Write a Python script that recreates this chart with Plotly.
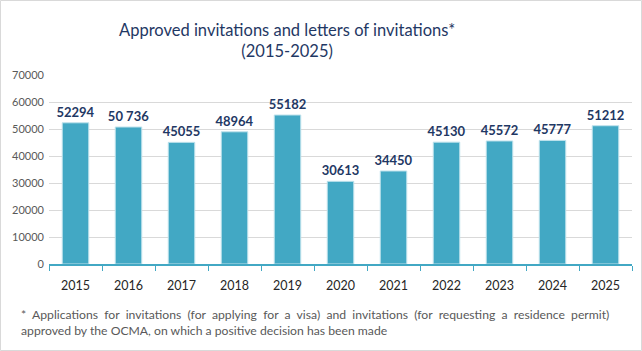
import plotly.graph_objects as go

years = ["2015", "2016", "2017", "2018", "2019", "2020", "2021", "2022", "2023", "2024", "2025"]
values = [52294, 50736, 45055, 48964, 55182, 30613, 34450, 45130, 45572, 45777, 51212]
labels = ["52294", "50 736", "45055", "48964", "55182", "30613", "34450", "45130", "45572", "45777", "51212"]
y_ticks = [0, 10000, 20000, 30000, 40000, 50000, 60000, 70000]

title_text = "Approved invitations and letters of invitations*<br>(2015-2025)"
note_line1 = "* Applications for invitations (for applying for a visa) and invitations (for requesting a residence permit)"
note_line2 = "approved by the OCMA, on which a positive decision has been made"

W, H = 642, 351
L, R, T, B = 49, 10, 75, 87
PW = W - L - R
PH = H - T - B

def px_x(p):
    return (p - L) / PW

def px_y(p):
    return (H - B - p) / PH

FONT = "Lato, Carlito, Calibri, sans-serif"
BAR = "#42A8C4"
NAVY = "#1F3864"

fig = go.Figure(go.Bar(
    x=years, y=values, text=labels, textposition="outside",
    constraintext="none",
    textfont=dict(family=FONT, size=13, color=NAVY, weight="bold"),
    marker=dict(color=BAR, line=dict(color="#BFE2EC", width=1)),
    width=0.5, cliponaxis=False,
))

fig.update_layout(
    width=W, height=H,
    margin=dict(l=L, r=R, t=T, b=B),
    paper_bgcolor="white", plot_bgcolor="white",
    showlegend=False,
    font=dict(family=FONT),
)
fig.update_yaxes(
    range=[0, 70000], tickvals=y_ticks, ticktext=[str(v) for v in y_ticks],
    showgrid=True, gridcolor="#D9D9D9", gridwidth=1, zeroline=False,
    showline=False, ticks="", ticklabelstandoff=4,
    tickfont=dict(family=FONT, size=11, color="#595959"),
)
fig.update_xaxes(
    type="category", showline=True, linecolor=BAR, linewidth=1.5,
    ticks="outside", tickson="boundaries", tickcolor=BAR, ticklen=5, tickwidth=1,
    ticklabelstandoff=9,
    tickfont=dict(family=FONT, size=12.5, color="#262626"),
    showgrid=False,
)

fig.add_annotation(
    text=title_text, xref="paper", yref="paper",
    x=px_x(287), y=px_y(18), xanchor="center", yanchor="top",
    showarrow=False, align="center",
    font=dict(family=FONT, size=16.5, color=NAVY),
)

def widen(s):
    return s.replace(" ", "\u00a0 ")

fig.add_annotation(
    text=widen(note_line1) + "<br>" + note_line2, xref="paper", yref="paper",
    x=px_x(19), y=px_y(305), xanchor="left", yanchor="top",
    showarrow=False, align="left",
    font=dict(family=FONT, size=12.2, color="#595959"),
)
fig.add_shape(
    type="rect", xref="paper", yref="paper",
    x0=px_x(0.5), x1=px_x(W - 0.5), y0=px_y(H - 0.5), y1=px_y(0.5),
    line=dict(color="#D9D9D9", width=1), fillcolor="rgba(0,0,0,0)", layer="below",
)

fig.write_html("out.html")
